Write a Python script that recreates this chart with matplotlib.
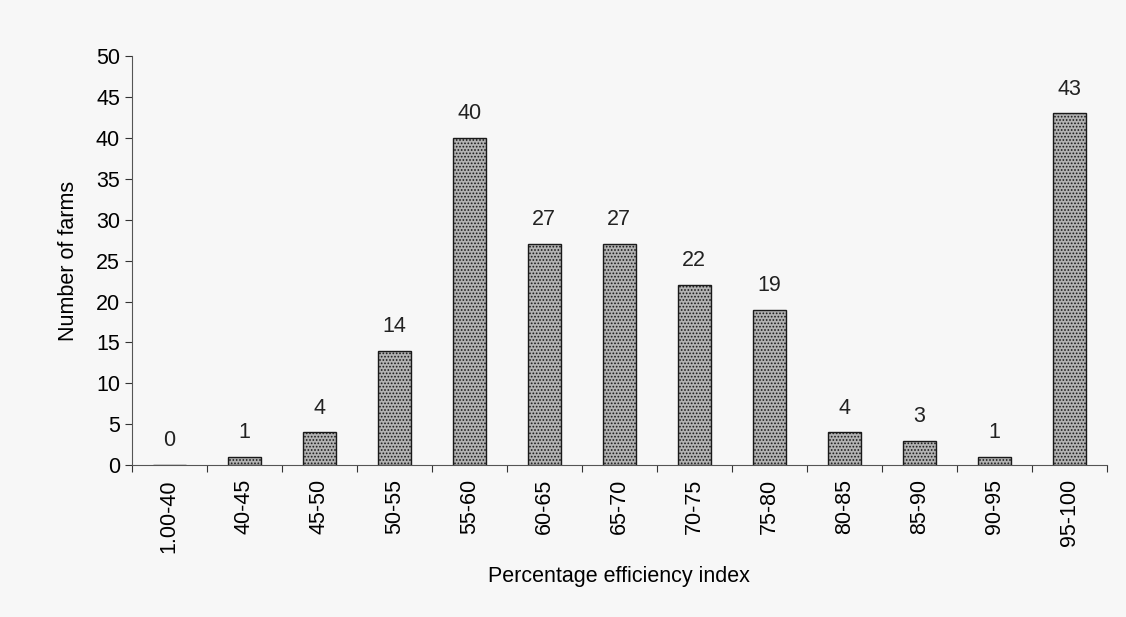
import matplotlib.pyplot as plt
import numpy as np

# Efficiency classes and counts
classes = ['1.00-40', '40-45', '45-50', '50-55', '55-60', '60-65', '65-70',
           '70-75', '75-80', '80-85', '85-90', '90-95', '95-100']
farms = [0, 1, 4, 14, 40, 27, 27, 22, 19, 4, 3, 1, 43]

plt.rcParams['font.family'] = ['Liberation Sans', 'DejaVu Sans']
plt.rcParams['hatch.linewidth'] = 0.8

fig = plt.figure(figsize=(11.26, 6.17), dpi=100, facecolor='#f7f7f7')
ax = fig.add_axes([0.117, 0.246, 0.866, 0.663])
ax.set_facecolor('#f7f7f7')

x = np.arange(len(classes))
ax.bar(x, farms, width=0.44, facecolor='#b2b2b2', edgecolor='#1a1a1a',
       linewidth=1.0, hatch='.....')

for xi, v in zip(x, farms):
    ax.annotate(str(v), (xi, v), xytext=(0, 10), textcoords='offset points',
                ha='center', va='bottom', fontsize=15.5, color='#222222')

ax.set_xlim(-0.5, len(classes) - 0.5)
ax.set_ylim(0, 50)
ax.set_yticks(range(0, 51, 5))
ax.set_xticks(np.arange(-0.5, len(classes), 1.0))
ax.set_xticklabels([])
ax.set_xticks(x, minor=True)
ax.set_xticklabels(classes, minor=True, rotation=90)
ax.tick_params(axis='x', which='minor', length=0, pad=10, labelsize=15.5)
ax.tick_params(axis='x', which='major', length=5, direction='out', color='#333333')
ax.tick_params(axis='y', length=5, labelsize=15.5, color='#333333')

ax.spines['top'].set_visible(False)
ax.spines['right'].set_visible(False)
ax.spines['left'].set_color('#555555')
ax.spines['bottom'].set_color('#555555')

ax.set_ylabel('Number of farms', fontsize=15.5, labelpad=12)
ax.set_xlabel('Percentage efficiency index', fontsize=15.5, labelpad=10)

fig.savefig('out.png', dpi=100, facecolor=fig.get_facecolor())
